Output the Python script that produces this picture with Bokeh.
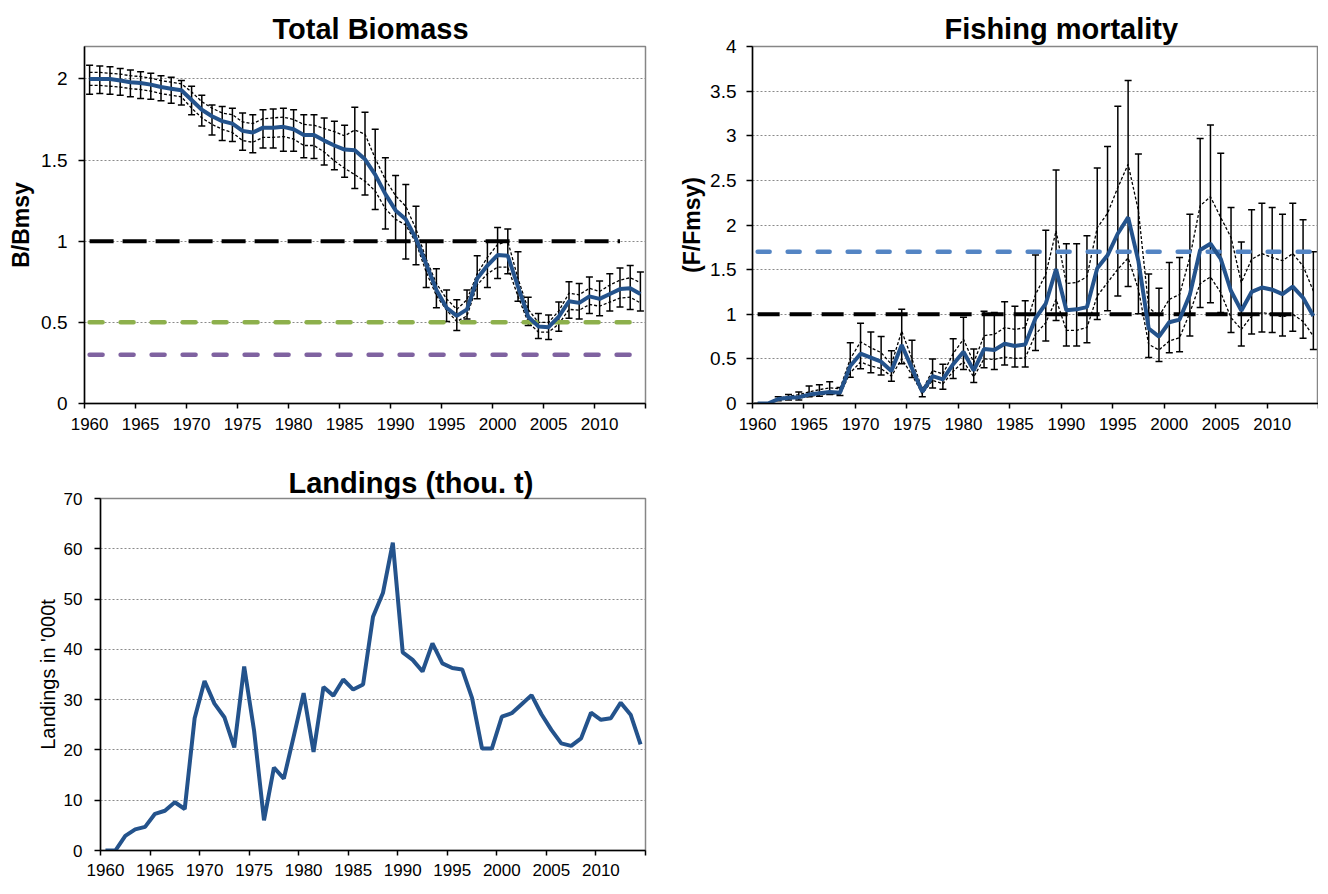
from bokeh.plotting import figure
from bokeh.layouts import column, row
from bokeh.models import (FixedTicker, NumeralTickFormatter, Whisker, ColumnDataSource,
                          Range1d, TeeHead)
from bokeh.embed import file_html
from bokeh.resources import INLINE

# ---------------- data ----------------
years = list(range(1960, 2015))

bio = [2.00, 2.00, 2.00, 1.99, 1.98, 1.975, 1.965, 1.95, 1.94, 1.93,
       1.87, 1.81, 1.77, 1.74, 1.725, 1.68, 1.67, 1.70, 1.70, 1.705,
       1.69, 1.655, 1.655, 1.62, 1.59, 1.565, 1.56, 1.505, 1.41, 1.29,
       1.19, 1.135, 1.015, 0.86, 0.70, 0.59, 0.54, 0.58, 0.77, 0.85,
       0.915, 0.91, 0.72, 0.535, 0.475, 0.47, 0.535, 0.63, 0.62, 0.66,
       0.645, 0.675, 0.705, 0.71, 0.675]
bio_ci_hi = [2.04, 2.04, 2.035, 2.03, 2.02, 2.015, 2.005, 1.99, 1.98, 1.97,
             1.92, 1.86, 1.82, 1.79, 1.78, 1.735, 1.725, 1.755, 1.76, 1.765,
             1.75, 1.72, 1.715, 1.695, 1.675, 1.65, 1.685, 1.66, 1.51, 1.38,
             1.28, 1.215, 1.075, 0.89, 0.74, 0.645, 0.58, 0.64, 0.80, 0.90,
             0.98, 1.00, 0.77, 0.58, 0.50, 0.50, 0.57, 0.68, 0.67, 0.71,
             0.69, 0.73, 0.76, 0.775, 0.745]
bio_ci_lo = [1.96, 1.96, 1.955, 1.95, 1.94, 1.935, 1.925, 1.91, 1.90, 1.89,
             1.82, 1.76, 1.72, 1.69, 1.67, 1.62, 1.61, 1.64, 1.64, 1.645,
             1.63, 1.59, 1.59, 1.55, 1.495, 1.45, 1.41, 1.37, 1.31, 1.20,
             1.135, 1.10, 0.99, 0.81, 0.665, 0.575, 0.505, 0.54, 0.73, 0.80,
             0.84, 0.84, 0.66, 0.50, 0.44, 0.44, 0.49, 0.58, 0.575, 0.61,
             0.60, 0.625, 0.65, 0.655, 0.62]
bio_err_hi = [2.085, 2.08, 2.075, 2.065, 2.055, 2.045, 2.035, 2.02, 2.01, 1.99,
              1.955, 1.90, 1.84, 1.83, 1.82, 1.79, 1.78, 1.81, 1.815, 1.82,
              1.81, 1.78, 1.78, 1.76, 1.74, 1.715, 1.825, 1.795, 1.69, 1.515,
              1.405, 1.35, 1.215, 1.00, 0.83, 0.70, 0.64, 0.70, 0.91, 1.00,
              1.085, 1.075, 0.935, 0.655, 0.555, 0.545, 0.625, 0.75, 0.74, 0.78,
              0.755, 0.80, 0.835, 0.85, 0.81]
bio_err_lo = [1.905, 1.91, 1.905, 1.90, 1.89, 1.88, 1.875, 1.865, 1.85, 1.84,
              1.78, 1.71, 1.655, 1.62, 1.615, 1.56, 1.545, 1.575, 1.575, 1.555,
              1.555, 1.515, 1.51, 1.47, 1.44, 1.395, 1.325, 1.285, 1.195, 1.075,
              1.00, 0.89, 0.855, 0.715, 0.59, 0.505, 0.45, 0.52, 0.645, 0.715,
              0.77, 0.80, 0.63, 0.48, 0.40, 0.395, 0.445, 0.525, 0.52, 0.555,
              0.54, 0.57, 0.595, 0.58, 0.57]

f_rel = [0.0, 0.0, 0.05, 0.065, 0.07, 0.10, 0.115, 0.13, 0.12, 0.42,
         0.558, 0.513, 0.468, 0.363, 0.655, 0.393, 0.131, 0.307, 0.27, 0.44,
         0.58, 0.37, 0.61, 0.60, 0.67, 0.645, 0.66, 0.955, 1.12, 1.505,
         1.045, 1.055, 1.08, 1.515, 1.66, 1.905, 2.085, 1.595, 0.84, 0.75,
         0.91, 0.94, 1.22, 1.72, 1.79, 1.62, 1.26, 1.04, 1.25, 1.30,
         1.275, 1.225, 1.31, 1.185, 0.98]
f_ci_hi = [0.0, 0.0, 0.06, 0.08, 0.10, 0.13, 0.155, 0.175, 0.165, 0.50,
           0.69, 0.625, 0.57, 0.44, 0.81, 0.50, 0.15, 0.37, 0.33, 0.56,
           0.72, 0.46, 0.76, 0.775, 0.85, 0.83, 0.85, 1.22, 1.45, 1.935,
           1.345, 1.355, 1.42, 1.97, 2.13, 2.42, 2.68, 2.16, 1.074, 0.98,
           1.167, 1.22, 1.635, 2.215, 2.316, 2.084, 1.86, 1.355, 1.616, 1.68,
           1.635, 1.60, 1.68, 1.54, 1.26]
f_ci_lo = [0.0, 0.0, 0.04, 0.055, 0.06, 0.08, 0.095, 0.11, 0.10, 0.345,
           0.465, 0.42, 0.39, 0.307, 0.50, 0.32, 0.11, 0.26, 0.22, 0.36,
           0.47, 0.30, 0.50, 0.494, 0.52, 0.505, 0.51, 0.775, 0.905, 1.167,
           0.82, 0.82, 0.85, 1.205, 1.355, 1.505, 1.63, 1.28, 0.662, 0.60,
           0.70, 0.737, 1.018, 1.343, 1.418, 1.242, 0.962, 0.83, 0.98, 1.018,
           1.0, 0.97, 1.0, 0.92, 0.756]
f_err_hi = [0.0, 0.0, 0.075, 0.10, 0.13, 0.195, 0.21, 0.245, 0.18, 0.68,
            0.90, 0.80, 0.75, 0.59, 1.055, 0.71, 0.18, 0.50, 0.44, 0.725,
            0.965, 0.61, 1.035, 1.02, 1.14, 1.09, 1.15, 1.665, 1.94, 2.615,
            1.79, 1.79, 1.88, 2.64, 2.88, 3.33, 3.62, 2.795, 1.45, 1.29,
            1.58, 1.635, 2.12, 2.97, 3.12, 2.805, 2.195, 1.81, 2.17, 2.245,
            2.195, 2.12, 2.245, 2.06, 1.70]
f_err_lo = [0.0, 0.0, 0.03, 0.04, 0.04, 0.075, 0.08, 0.10, 0.09, 0.295,
            0.39, 0.345, 0.32, 0.25, 0.445, 0.29, 0.075, 0.175, 0.16, 0.28,
            0.38, 0.235, 0.40, 0.38, 0.43, 0.41, 0.41, 0.595, 0.70, 0.93,
            0.645, 0.645, 0.68, 0.94, 1.04, 1.205, 1.31, 1.005, 0.515, 0.47,
            0.57, 0.58, 0.755, 1.075, 1.13, 1.02, 0.795, 0.645, 0.78, 0.80,
            0.795, 0.755, 0.81, 0.73, 0.605]

landings = [0.0, 0.0, 2.9, 4.2, 4.7, 7.3, 7.9, 9.6, 8.25, 26.3,
            33.7, 29.2, 26.5, 20.5, 36.6, 23.8, 6.0, 16.5, 14.3, 22.7,
            31.3, 19.6, 32.5, 30.8, 34.0, 32.0, 33.0, 46.5, 51.2, 61.2,
            39.4, 37.9, 35.6, 41.2, 37.2, 36.3, 36.0, 30.3, 20.3, 20.3,
            26.6, 27.3, 29.1, 30.9, 27.1, 24.0, 21.3, 20.8, 22.3, 27.4,
            26.0, 26.3, 29.4, 27.0, 21.1]

# reference levels
b_msy = 1.0        # black dashed, drawn 1960-2012
b_green = 0.5      # green dashed
b_purple = 0.3     # purple dashed
f_msy = 1.0        # black dashed, drawn 1960-2012
f_blue = 1.7       # light-blue dashed

label_years = list(range(1960, 2015, 5))
bio_yticks = [0, 0.5, 1, 1.5, 2]
f_yticks = [0, 0.5, 1, 1.5, 2, 2.5, 3, 3.5, 4]
land_yticks = [0, 10, 20, 30, 40, 50, 60, 70]

# ---------------- styling ----------------
FONT = "Liberation Sans"
NAVY = "#24538C"


def make_fig(title, title_offset, title_standoff, ylabel, ylabel_bold, ylabel_size,
             yticks, ymax, width, height, b_left, b_right, b_top, b_bottom,
             tick_standoff, label_standoff, xlab_standoff, tick_font):
    p = figure(width=width, height=height, output_backend="svg", toolbar_location=None,
               x_range=Range1d(1959.5, 2014.5), y_range=Range1d(0, ymax),
               min_border_left=b_left, min_border_right=b_right,
               min_border_top=b_top, min_border_bottom=b_bottom,
               background_fill_color="white", border_fill_color="white")
    p.title.text = title
    p.title.text_font = FONT
    p.title.text_font_size = "29px"
    p.title.text_font_style = "bold"
    p.title.text_color = "black"
    p.title.align = "left"
    p.title.offset = title_offset
    p.title.standoff = title_standoff

    p.outline_line_color = "#868686"
    p.outline_line_width = 1.5

    # x axis: labels at category centres, tick marks at category boundaries
    xa = p.xaxis[0]
    xa.ticker = FixedTicker(ticks=label_years,
                            minor_ticks=[y - 0.5 for y in range(1960, 2016, 5)])
    xa.major_tick_out = 0
    xa.major_tick_in = 0
    xa.minor_tick_out = 5
    xa.minor_tick_in = 0
    xa.minor_tick_line_color = "black"
    xa.minor_tick_line_width = 1.5
    xa.axis_line_color = "black"
    xa.axis_line_width = 1.5
    xa.major_label_text_font = FONT
    xa.major_label_text_font_size = "17px"
    xa.major_label_text_color = "black"
    xa.major_label_standoff = xlab_standoff

    ya = p.yaxis[0]
    ya.ticker = FixedTicker(ticks=yticks, minor_ticks=[])
    ya.formatter = NumeralTickFormatter(format="0.[0]")
    ya.major_tick_out = 6
    ya.major_tick_in = 0
    ya.major_tick_line_color = "black"
    ya.major_tick_line_width = 1.5
    ya.axis_line_color = "black"
    ya.axis_line_width = 1.5
    ya.major_label_text_font = FONT
    ya.major_label_text_font_size = tick_font
    ya.major_label_text_color = "black"
    ya.major_label_standoff = tick_standoff
    ya.axis_label = ylabel
    ya.axis_label_text_font = FONT
    ya.axis_label_text_font_size = ylabel_size
    ya.axis_label_text_font_style = "bold" if ylabel_bold else "normal"
    ya.axis_label_text_color = "black"
    ya.axis_label_standoff = label_standoff

    p.xgrid.visible = False
    p.ygrid.ticker = FixedTicker(ticks=yticks, minor_ticks=[])
    p.ygrid.grid_line_color = "#8a8a8a"
    p.ygrid.grid_line_dash = "2 2"
    p.ygrid.grid_line_width = 1
    return p


def add_errors(p, lo, hi, err_lo, err_hi):
    src = ColumnDataSource(dict(x=years, lower=err_lo, upper=err_hi))
    w = Whisker(source=src, base="x", lower="lower", upper="upper",
                line_color="black", line_width=1.5,
                upper_head=TeeHead(size=7, line_color="black", line_width=1.5),
                lower_head=TeeHead(size=7, line_color="black", line_width=1.5))
    p.add_layout(w)
    p.line(years, hi, line_color="black", line_width=1.3, line_dash="3 2")
    p.line(years, lo, line_color="black", line_width=1.3, line_dash="3 2")


# ---------------- Total Biomass ----------------
p1 = make_fig("Total Biomass", 188, 4, "B/Bmsy", True, "23px", bio_yticks, 2.2,
              676, 432, 84, 31, 46, 28, 11, 4, 9, "19px")
add_errors(p1, bio_ci_lo, bio_ci_hi, bio_err_lo, bio_err_hi)
p1.line(years[:53], [b_msy] * 53, line_color="black", line_width=4, line_dash="24 9")
p1.line(years, [b_green] * len(years), line_color="#8DB04C", line_width=4.5,
        line_dash="13 18", line_cap="round")
p1.line(years, [b_purple] * len(years), line_color="#7F62A0", line_width=4.5,
        line_dash="13 18", line_cap="round")
p1.line(years, bio, line_color=NAVY, line_width=4)

# ---------------- Fishing mortality ----------------
p2 = make_fig("Fishing mortality", 192, 3, "(F/Fmsy)", True, "23px", f_yticks, 4,
              642, 432, 72, 0, 46, 28, 10, 2, 9, "19px")
add_errors(p2, f_ci_lo, f_ci_hi, f_err_lo, f_err_hi)
p2.line(years[:53], [f_msy] * 53, line_color="black", line_width=4, line_dash="22 10")
p2.line(years, [f_blue] * len(years), line_color="#5485C4", line_width=4.5,
        line_dash="12 18", line_cap="round")
p2.line(years, f_rel, line_color=NAVY, line_width=4)

# ---------------- Landings ----------------
p3 = make_fig("Landings (thou. t)", 188, 0, "Landings in '000t", False, "20px",
              land_yticks, 70, 676, 446, 100, 31, 66, 27, 12, 2, 8, "17px")
p3.yaxis[0].formatter = NumeralTickFormatter(format="0")
p3.line(years, landings, line_color=NAVY, line_width=4)

layout = column(row(p1, p2), row(p3))
open("out.html", "w").write(file_html(layout, INLINE))
